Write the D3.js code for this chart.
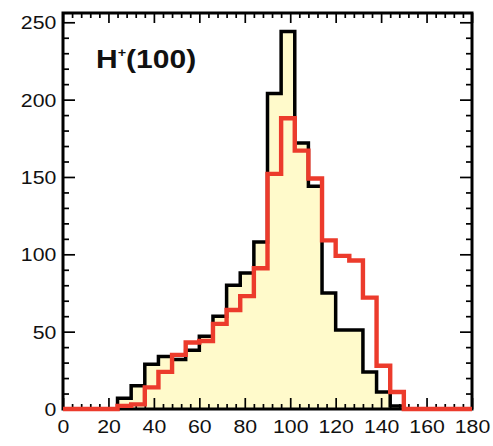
<!DOCTYPE html>
<html>
<head>
<meta charset="utf-8">
<script src="https://cdn.jsdelivr.net/npm/d3@7"></script>
<style>
  html, body { margin: 0; padding: 0; background: #fff; }
  svg { display: block; }
  text { font-family: "Liberation Sans", Arial, Helvetica, sans-serif; fill: #111; }
</style>
</head>
<body>
<svg id="chart" width="493" height="446"></svg>
<script>
// Bin low edges (GeV), bin width 6
const binLow = [0, 6, 12, 18, 24, 30, 36, 42, 48, 54, 60, 66, 72, 78, 84,
                90, 96, 102, 108, 114, 120, 126, 132, 138, 144, 150, 156, 162, 168, 174];
const binWidth = 6;

// Filled (black outline) distribution
const countsBlack = [0, 0, 0, 0, 7, 15, 29, 34, 32, 38, 47, 60, 80, 88, 108,
                     204, 244, 172, 144, 75, 51, 51, 24, 11, 2, 0, 0, 0, 0, 0];
// Red outline distribution
const countsRed = [0, 0, 0, 0, 2, 3, 14, 24, 35, 43, 44, 55, 64, 73, 91,
                   152, 188, 167, 149, 109, 99, 96, 72, 28, 11, 0, 0, 0, 0, 0];

const xMajorTicks = [0, 20, 40, 60, 80, 100, 120, 140, 160, 180];
const yMajorTicks = [0, 50, 100, 150, 200, 250];
const label = "H";
const labelSup = "+";
const labelRest = "(100)";

const svg = d3.select("#chart");
const plotL = 63, plotR = 472, plotT = 13, plotB = 409;

const x = d3.scaleLinear().domain([0, 180]).range([plotL, plotR]);
const y = d3.scaleLinear().domain([0, 256]).range([plotB, plotT]);

function stepPoints(counts) {
  const pts = binLow.map((b, i) => [b, counts[i]]);
  pts.push([binLow[binLow.length - 1] + binWidth, counts[counts.length - 1]]);
  return pts;
}

// Filled area under the black histogram
const area = d3.area()
  .x(d => x(d[0])).y0(y(0)).y1(d => y(d[1]))
  .curve(d3.curveStepAfter);
const line = d3.line()
  .x(d => x(d[0])).y(d => y(d[1]))
  .curve(d3.curveStepAfter);

svg.append("path")
  .datum(stepPoints(countsBlack))
  .attr("d", area)
  .attr("fill", "#fffacb");

svg.append("path")
  .datum(stepPoints(countsBlack))
  .attr("d", line)
  .attr("fill", "none")
  .attr("stroke", "#000")
  .attr("stroke-width", 3.5)
  .attr("stroke-linejoin", "miter");

// Axes with inward-pointing ticks
const xMinor = d3.range(0, 181, 4).filter(v => v % 20 !== 0);
const yMinor = d3.range(0, 256, 10).filter(v => v % 50 !== 0);

function addAxis(axisFn, scale, pos, major, minor, majorLen, minorLen, labels) {
  const g = svg.append("g").attr("transform", pos);
  g.call(axisFn(scale).tickValues(minor).tickSize(-minorLen).tickFormat(""))
    .call(s => s.select(".domain").remove());
  const gm = svg.append("g").attr("transform", pos);
  gm.call(axisFn(scale).tickValues(major).tickSize(-majorLen).tickPadding(0)
      .tickFormat(labels ? d3.format("d") : ""))
    .call(s => s.select(".domain").remove());
  g.selectAll(".tick line").attr("stroke", "#000").attr("stroke-width", 1.7);
  gm.selectAll(".tick line").attr("stroke", "#000").attr("stroke-width", 1.7);
  return gm;
}

const gx = addAxis(d3.axisBottom, x, `translate(0,${plotB})`, xMajorTicks, xMinor, 11, 5, true);
gx.selectAll("text")
  .attr("font-size", 19)
  .attr("y", 24)
  .attr("dy", 0)
  .attr("fill", "#111")
  .attr("transform", "scale(1.12,1)");

const gy = addAxis(d3.axisLeft, y, `translate(${plotL},0)`, yMajorTicks, yMinor, 12, 6, true);
gy.selectAll("text")
  .attr("font-size", 19)
  .attr("x", -6)
  .attr("dy", "0.35em")
  .attr("fill", "#111")
  .attr("transform", "scale(1.12,1)");

addAxis(d3.axisTop, x, `translate(0,${plotT})`, xMajorTicks, xMinor, 10, 5, false);
addAxis(d3.axisRight, y, `translate(${plotR},0)`, yMajorTicks, yMinor, 12, 6, false);

// Frame
svg.append("rect")
  .attr("x", plotL).attr("y", plotT)
  .attr("width", plotR - plotL).attr("height", plotB - plotT)
  .attr("fill", "none")
  .attr("stroke", "#000")
  .attr("stroke-width", 3);

// Red histogram on top
svg.append("path")
  .datum(stepPoints(countsRed))
  .attr("d", line)
  .attr("fill", "none")
  .attr("stroke", "#ec3b2c")
  .attr("stroke-width", 4.4)
  .attr("stroke-linejoin", "miter");

// Title label
const t = svg.append("text")
  .attr("x", 0).attr("y", 0)
  .attr("transform", "translate(96,68) scale(1.2,1)")
  .attr("font-size", 25)
  .attr("font-weight", "bold")
  .attr("fill", "#141414");
t.append("tspan").text(label);
t.append("tspan").attr("font-size", 12).attr("dy", -11).text(labelSup);
t.append("tspan").attr("dy", 11).text(labelRest);
</script>
</body>
</html>
